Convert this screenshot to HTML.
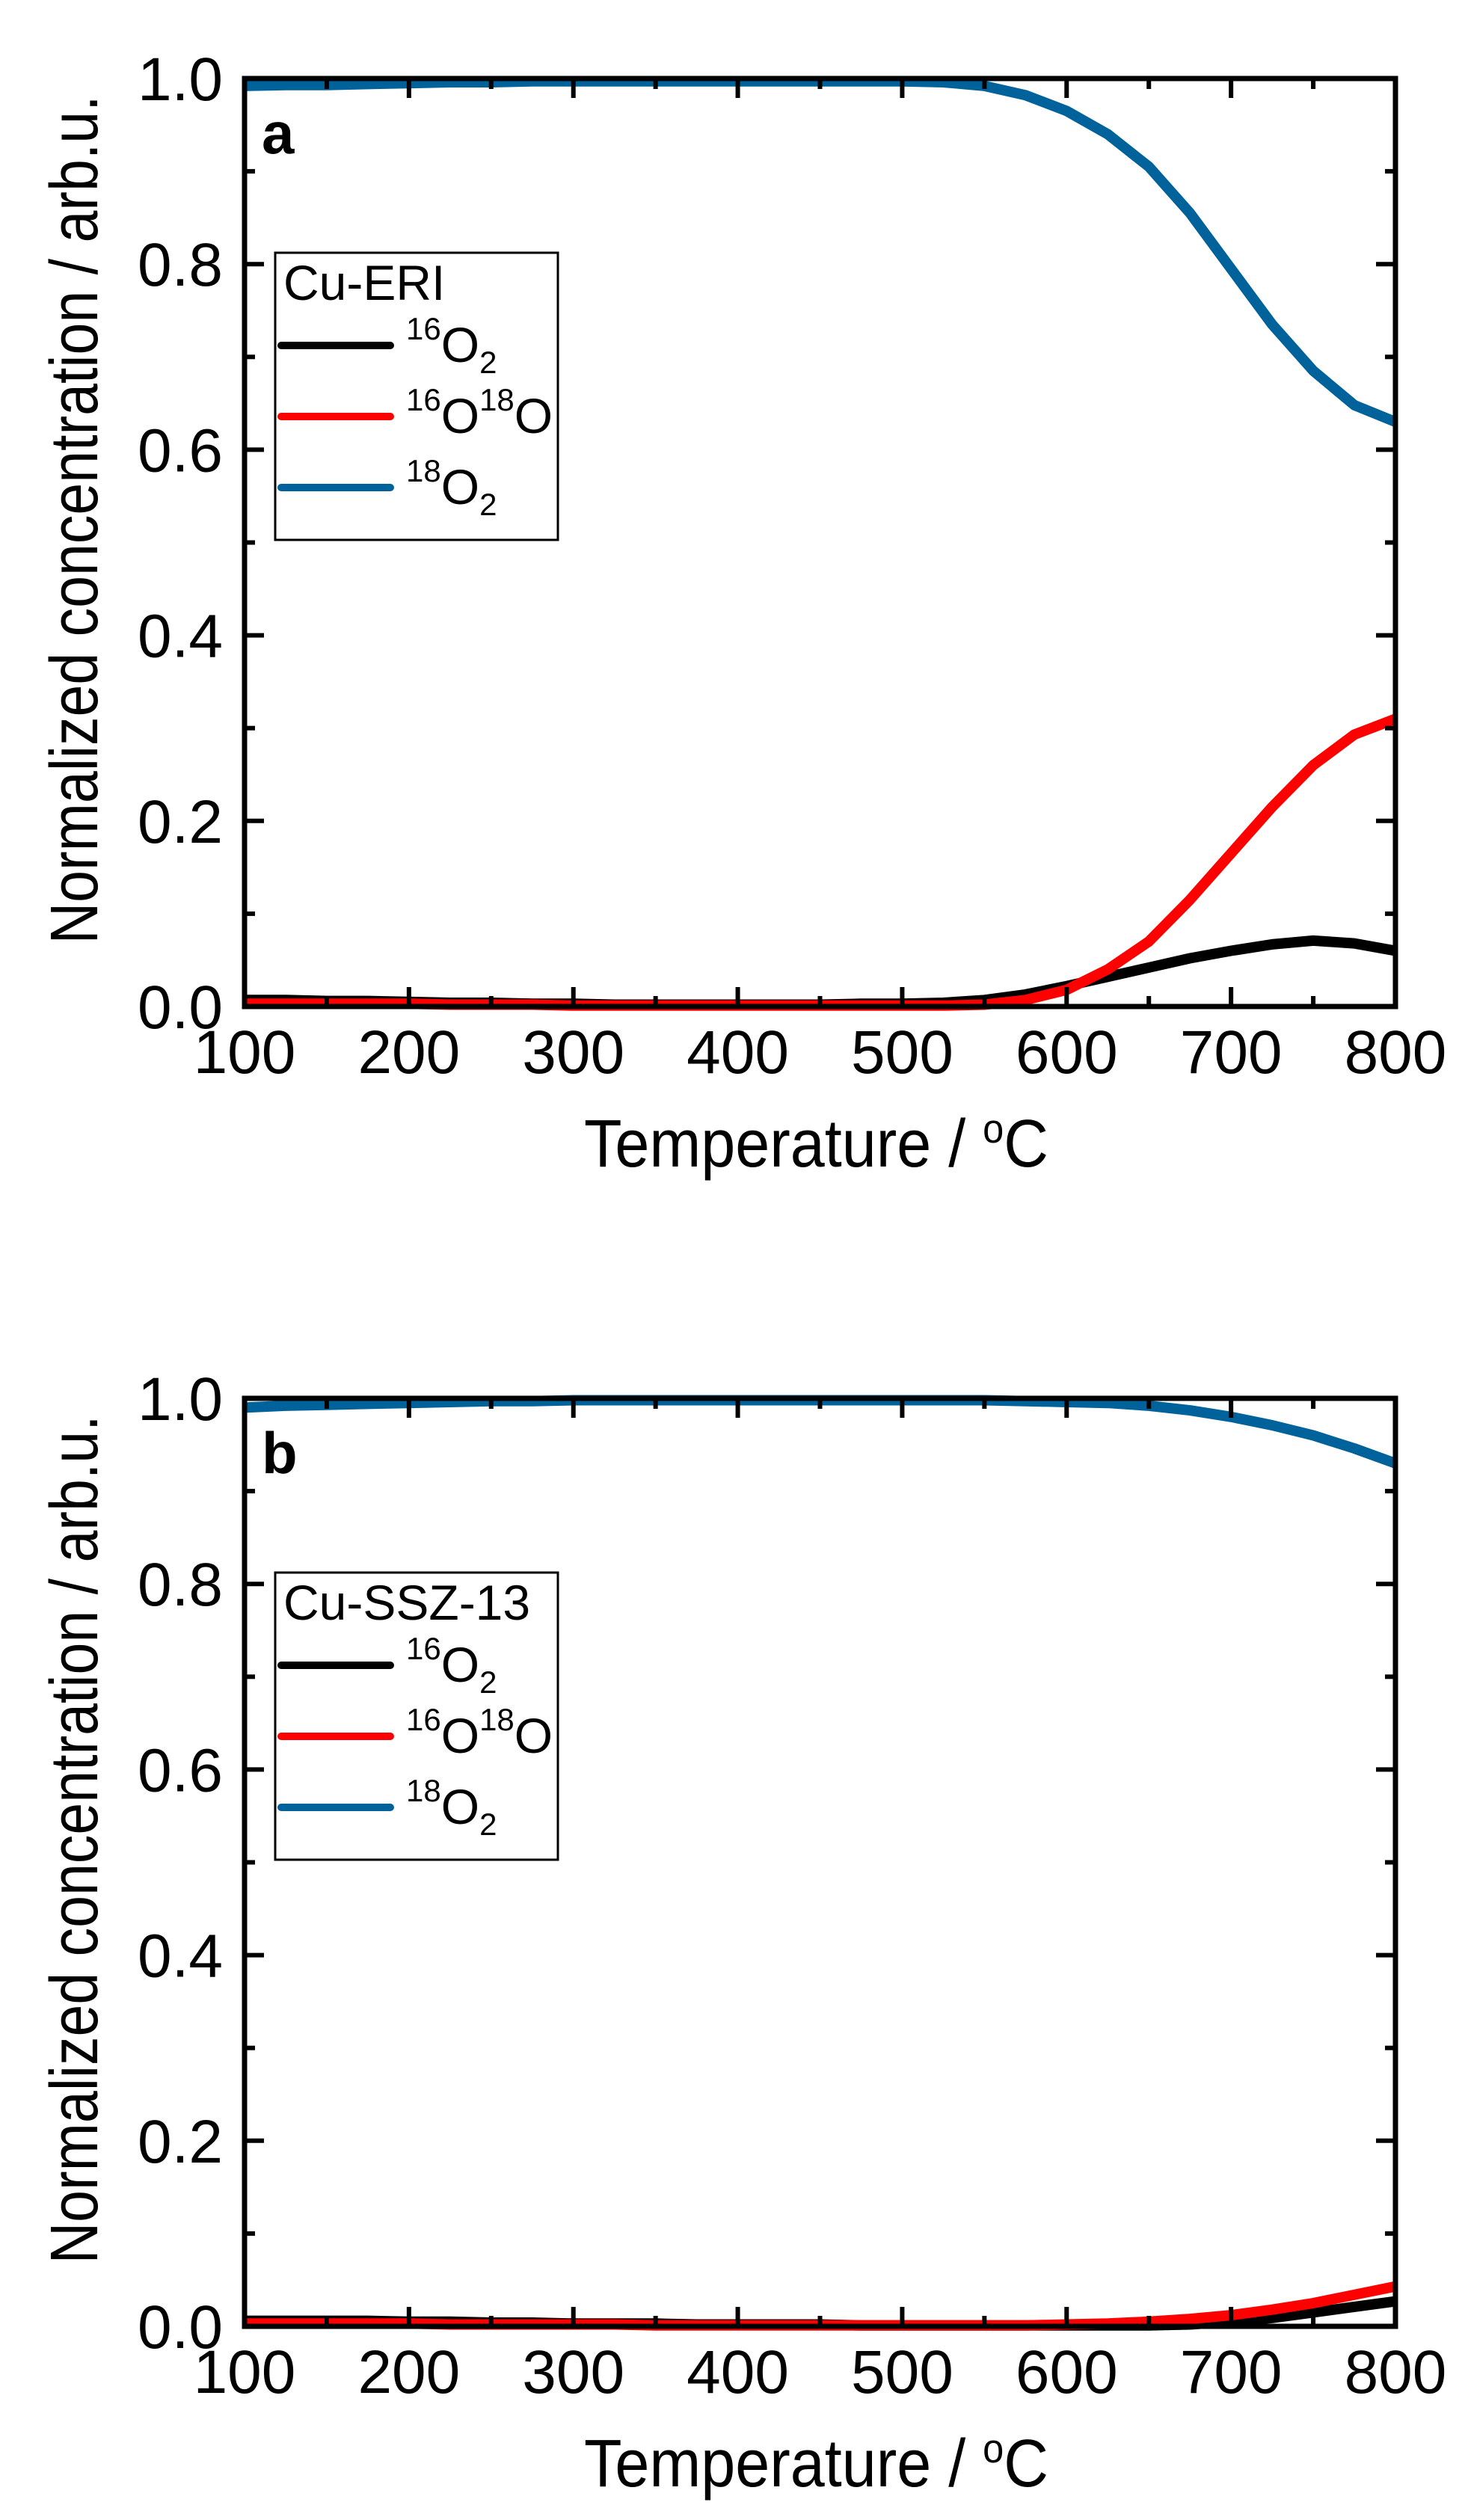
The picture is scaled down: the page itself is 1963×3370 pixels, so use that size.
<!DOCTYPE html>
<html><head><meta charset="utf-8"><style>
html,body{margin:0;padding:0;background:#fff;}
svg{display:block;font-family:"Liberation Sans",Arial,sans-serif;}
</style></head><body>
<svg id="fig" width="1963" height="3370" viewBox="0 0 1963 3370" xmlns="http://www.w3.org/2000/svg"></svg>
<script>
const temps = [100,125,150,175,200,225,250,275,300,325,350,375,400,425,450,475,500,525,550,575,600,625,650,675,700,725,750,775,800];
const aBlue  = [0.992,0.993,0.993,0.994,0.995,0.996,0.996,0.997,0.997,0.997,0.997,0.997,0.997,0.997,0.997,0.997,0.997,0.996,0.992,0.982,0.965,0.94,0.905,0.855,0.795,0.735,0.685,0.648,0.63];
const aRed   = [0.003,0.003,0.003,0.003,0.003,0.002,0.002,0.002,0.001,0.001,0.001,0.001,0.001,0.001,0.001,0.001,0.001,0.001,0.002,0.007,0.018,0.04,0.07,0.115,0.165,0.215,0.26,0.293,0.31];
const aBlack = [0.007,0.007,0.006,0.006,0.005,0.004,0.004,0.003,0.003,0.002,0.002,0.002,0.002,0.002,0.002,0.003,0.003,0.004,0.007,0.013,0.022,0.032,0.042,0.052,0.06,0.067,0.071,0.068,0.06];
const bBlue  = [0.99,0.992,0.993,0.994,0.995,0.996,0.997,0.997,0.998,0.998,0.998,0.998,0.998,0.998,0.998,0.998,0.998,0.998,0.998,0.997,0.996,0.995,0.992,0.987,0.98,0.971,0.96,0.946,0.93];
const bRed   = [0.003,0.003,0.003,0.003,0.003,0.002,0.002,0.002,0.002,0.002,0.001,0.001,0.001,0.001,0.001,0.001,0.001,0.001,0.001,0.001,0.002,0.003,0.005,0.008,0.012,0.018,0.025,0.034,0.043];
const bBlack = [0.006,0.006,0.006,0.006,0.005,0.005,0.004,0.004,0.003,0.003,0.003,0.002,0.002,0.002,0.002,0.001,0.001,0.001,0.001,0.001,0.001,0.001,0.001,0.002,0.005,0.009,0.015,0.021,0.027];
const xTicks = [100,200,300,400,500,600,700,800];
const yTicks = [0.0,0.2,0.4,0.6,0.8,1.0];
const yTickLabels = ["0.0","0.2","0.4","0.6","0.8","1.0"];
const panelLabels = ["a","b"];
const legendTitles = ["Cu-ERI","Cu-SSZ-13"];

const NS="http://www.w3.org/2000/svg";
const svg=document.getElementById('fig');
const X0=327,X1=1866,H=1241;
function sx(t){return X0+(t-100)/700*(X1-X0);}
function mk(tag,attrs,parent){const e=document.createElementNS(NS,tag);for(const k in attrs)e.setAttribute(k,attrs[k]);(parent||svg).appendChild(e);return e;}

function panel(idx,off,blue,red,black){
  const top=105+off,bot=top+H;
  const sy=v=>bot-v*H;
  const g=mk('g',{});
  
  
  const series=[[black,'#000000','o16-2'],[red,'#ff0000','o16-o18'],[blue,'#00629b','o18-2']];
  series.forEach(s=>{
    let d='';
    temps.forEach((t,i)=>{d+=(i?'L':'M')+sx(t).toFixed(1)+' '+sy(s[0][i]).toFixed(1);});
    const p=mk('path',{d:d,fill:'none',stroke:s[1],'stroke-width':14,'stroke-linejoin':'round'},g);
    
    
  });
  for(let t=100;t<=800;t+=50){
    const major=(t%100===0),L=major?26:14;
    const x=sx(t);
    const a=mk('line',{x1:x,y1:bot,x2:x,y2:bot-L,stroke:'#000','stroke-width':6},g);
    
    
    const b=mk('line',{x1:x,y1:top,x2:x,y2:top+L,stroke:'#000','stroke-width':6},g);
    
    
  }
  for(let k=0;k<=10;k++){
    const v=k/10,major=(k%2===0),L=major?26:14;
    const y=sy(v);
    const a=mk('line',{x1:X0,y1:y,x2:X0+L,y2:y,stroke:'#000','stroke-width':6},g);
    
    
    const b=mk('line',{x1:X1,y1:y,x2:X1-L,y2:y,stroke:'#000','stroke-width':6},g);
    
    
  }
  const fr=mk('rect',{x:X0,y:top,width:X1-X0,height:H,fill:'none',stroke:'#000','stroke-width':7},g);
  
  
  xTicks.forEach(t=>{
    const e=mk('text',{x:sx(t),y:bot+89,'font-size':82,'text-anchor':'middle',fill:'#000'},g);
    e.textContent=t;
    
    
  });
  yTicks.forEach((v,i)=>{
    const e=mk('text',{x:298,y:sy(v)+29,'font-size':82,'text-anchor':'end',fill:'#000'},g);
    e.textContent=yTickLabels[i];
    
    
  });
  const xt=mk('text',{x:781,y:top+1455,'font-size':90,fill:'#000',textLength:621,lengthAdjust:'spacingAndGlyphs'},g);
  xt.innerHTML='Temperature / <tspan dy="-32" font-size="55">o</tspan><tspan dy="32">C</tspan>';
  
  
  const yt=mk('text',{x:0,y:0,'font-size':90,fill:'#000','text-anchor':'middle',textLength:1135,lengthAdjust:'spacingAndGlyphs',transform:'translate(130,'+(top+590)+') rotate(-90)'},g);
  yt.textContent='Normalized concentration / arb.u.';
  
  
  const pl=mk('text',{x:350,y:top+100,'font-size':78,'font-weight':'bold',fill:'#000'},g);
  pl.textContent=panelLabels[idx];
  
  
  const lg=mk('g',{},g);
  
  
  const ly=top+233;
  const lb=mk('rect',{x:368,y:ly,width:378,height:384,fill:'#fff',stroke:'#000','stroke-width':3},lg);
  
  
  const lt=mk('text',{x:379,y:ly+63,'font-size':66,fill:'#000'},lg);
  lt.textContent=legendTitles[idx];
  
  
  const entries=[['#000000','<tspan font-size="42" dy="-30">16</tspan><tspan dy="30">O</tspan><tspan font-size="42" dy="15">2</tspan>','legend-entry-16o2'],
                 ['#ff0000','<tspan font-size="42" dy="-30">16</tspan><tspan dy="30">O</tspan><tspan font-size="42" dy="-30">18</tspan><tspan dy="30">O</tspan>','legend-entry-16o18o'],
                 ['#00629b','<tspan font-size="42" dy="-30">18</tspan><tspan dy="30">O</tspan><tspan font-size="42" dy="15">2</tspan>','legend-entry-18o2']];
  entries.forEach((en,i)=>{
    const y=ly+124+i*95;
    const eg=mk('g',{},lg);
    
    
    mk('line',{x1:376,y1:y,x2:522,y2:y,stroke:en[0],'stroke-width':10,'stroke-linecap':'round'},eg);
    const tx=mk('text',{x:543,y:y+22,'font-size':66,fill:'#000'},eg);
    tx.innerHTML=en[1];
  });
}
panel(0,0,aBlue,aRed,aBlack);
panel(1,1765,bBlue,bRed,bBlack);
</script>
</body></html>
